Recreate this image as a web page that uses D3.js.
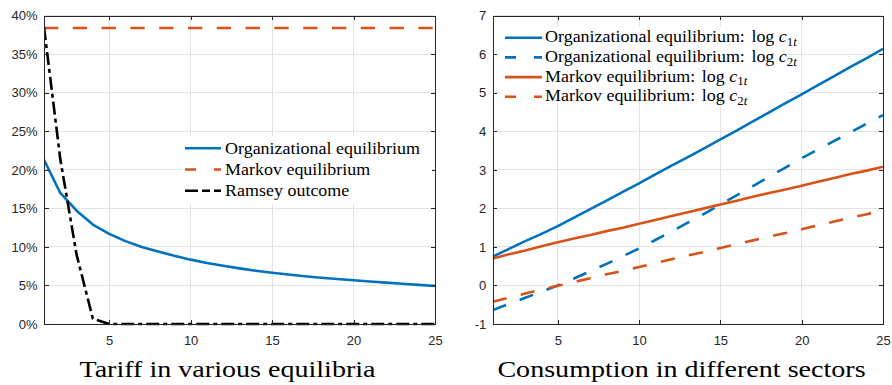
<!DOCTYPE html>
<html>
<head>
<meta charset="utf-8">
<script src="https://cdn.jsdelivr.net/npm/d3@7"></script>
<style>
  body { margin: 0; background: #fff; }
</style>
</head>
<body>
<svg id="chart" width="892" height="385"></svg>
<script>
// ---- data ----------------------------------------------------------
const periods = [1,2,3,4,5,6,7,8,9,10,11,12,13,14,15,16,17,18,19,20,21,22,23,24,25];

// tariff (%) by period
const tariffOrganizational = [21.3,17.0,14.7,12.9,11.7,10.75,10.0,9.4,8.85,8.35,7.92,7.55,7.22,6.92,6.65,6.42,6.2,6.0,5.84,5.68,5.52,5.37,5.22,5.08,4.93];
const tariffMarkov = [38.4,38.4,38.4,38.4,38.4,38.4,38.4,38.4,38.4,38.4,38.4,38.4,38.4,38.4,38.4,38.4,38.4,38.4,38.4,38.4,38.4,38.4,38.4,38.4,38.4];
const tariffRamsey = [38.5,21.4,9.0,0.7,0,0,0,0,0,0,0,0,0,0,0,0,0,0,0,0,0,0,0,0,0];

// log consumption by sector
const orgLogC1 = [0.75,0.95,1.15,1.34,1.54,1.76,1.98,2.2,2.43,2.65,2.88,3.11,3.33,3.56,3.79,4.02,4.26,4.49,4.73,4.96,5.2,5.43,5.67,5.9,6.14];
const orgLogC2 = [-0.64,-0.48,-0.32,-0.16,0.0,0.18,0.37,0.56,0.76,0.96,1.18,1.4,1.63,1.86,2.1,2.34,2.58,2.82,3.06,3.3,3.53,3.75,3.97,4.2,4.42];
const markovLogC1 = [0.7,0.81,0.91,1.02,1.12,1.22,1.31,1.41,1.5,1.6,1.7,1.8,1.9,2.0,2.1,2.2,2.3,2.4,2.49,2.59,2.69,2.79,2.89,2.98,3.08];
const markovLogC2 = [-0.42,-0.32,-0.21,-0.11,-0.01,0.09,0.19,0.29,0.38,0.48,0.58,0.68,0.78,0.87,0.97,1.07,1.17,1.27,1.36,1.46,1.56,1.66,1.76,1.85,1.95];

// axis ticks
const xTicks = [5,10,15,20,25];
const tariffTicks = [0,5,10,15,20,25,30,35,40];
const consumptionTicks = [-1,0,1,2,3,4,5,6,7];

// ---- styling -------------------------------------------------------
const BLUE = "#0072BD", ORANGE = "#D95319", BLACK = "#000000";
const AXIS = "#262626", GRID = "#e3e3e3";
const DASH = "14.3,14.5";
const DASHDOT = "13,4,4,4";
const SANS = "Liberation Sans";
const SERIF = "Liberation Serif";

const svg = d3.select("#chart");

// serif text block, stretched horizontally (glyph scale, no extra spacing)
function serifText(parent, x, y, size, stretch, anchor) {
  const holder = parent.append("g")
    .attr("transform", `translate(${x},${y}) scale(${stretch},1)`);
  return holder.append("text")
    .attr("x", 0).attr("y", 0)
    .attr("font-family", SERIF).attr("font-size", size)
    .attr("text-anchor", anchor || "start")
    .attr("fill", "#000");
}

function panel(cfg) {
  const x = d3.scaleLinear().domain([1, 25]).range([cfg.left, cfg.right]);
  const y = d3.scaleLinear().domain(cfg.yDomain).range([cfg.bottom, cfg.top]);
  const g = svg.append("g");

  // grid
  const grid = g.append("g").attr("stroke", GRID).attr("stroke-width", 1).attr("shape-rendering", "crispEdges");
  grid.selectAll("line.v").data(xTicks).join("line")
    .attr("x1", d => x(d)).attr("x2", d => x(d))
    .attr("y1", cfg.top).attr("y2", cfg.bottom);
  grid.selectAll("line.h").data(cfg.yTicks).join("line")
    .attr("x1", cfg.left).attr("x2", cfg.right)
    .attr("y1", d => y(d)).attr("y2", d => y(d));

  // series
  const line = d3.line().x((d, i) => x(periods[i])).y(d => y(d));
  const clipId = "clip" + cfg.id;
  g.append("clipPath").attr("id", clipId).append("rect")
    .attr("x", cfg.left).attr("y", cfg.top - 2)
    .attr("width", cfg.right - cfg.left).attr("height", cfg.bottom - cfg.top + 4);
  const lines = g.append("g").attr("clip-path", `url(#${clipId})`);
  cfg.series.forEach(s => {
    lines.append("path").datum(s.values)
      .attr("d", line)
      .attr("fill", "none")
      .attr("stroke", s.color)
      .attr("stroke-width", 2.6)
      .attr("stroke-linejoin", "round")
      .attr("stroke-dasharray", s.dash || null);
  });

  // axes (box, ticks pointing inward on all sides)
  const axG = g.append("g");
  const bottom = axG.append("g").attr("transform", `translate(0,${cfg.bottom})`)
    .call(d3.axisBottom(x).tickValues(xTicks).tickSizeInner(-4.5).tickSizeOuter(0).tickPadding(12));
  const left = axG.append("g").attr("transform", `translate(${cfg.left},0)`)
    .call(d3.axisLeft(y).tickValues(cfg.yTicks).tickFormat(cfg.yFormat).tickSizeInner(-4.5).tickSizeOuter(0).tickPadding(6.5));
  const top = axG.append("g").attr("transform", `translate(0,${cfg.top})`)
    .call(d3.axisTop(x).tickValues(xTicks).tickFormat("").tickSizeInner(-4.5).tickSizeOuter(0));
  const right = axG.append("g").attr("transform", `translate(${cfg.right},0)`)
    .call(d3.axisRight(y).tickValues(cfg.yTicks).tickFormat("").tickSizeInner(-4.5).tickSizeOuter(0));
  [bottom, left, top, right].forEach(a => {
    a.selectAll("path.domain").attr("stroke", AXIS).attr("stroke-width", 1).attr("shape-rendering", "crispEdges");
    a.selectAll(".tick line").attr("stroke", AXIS).attr("shape-rendering", "crispEdges");
    a.selectAll(".tick text").attr("fill", AXIS)
      .attr("font-family", SANS).attr("font-size", 13);
  });

  // legend
  const L = cfg.legend;
  const lg = g.append("g");
  lg.append("rect").attr("x", L.box[0]).attr("y", L.box[1])
    .attr("width", L.box[2]).attr("height", L.box[3]).attr("fill", "#fff");
  L.items.forEach((it, i) => {
    const cy = L.y0 + i * L.dy;
    lg.append("line").attr("x1", L.x0).attr("x2", L.x1).attr("y1", cy).attr("y2", cy)
      .attr("stroke", it.color).attr("stroke-width", 2.6)
      .attr("stroke-dasharray", it.dash || null);
    const t = serifText(lg, L.tx, cy + L.base, L.fontSize, L.stretch);
    t.append("tspan").text(it.label);
    if (it.sub) {
      t.append("tspan").text("log ").attr("dx", 6);
      t.append("tspan").text("c").attr("font-style", "italic");
      t.append("tspan").text(it.sub).attr("font-size", L.fontSize * 0.72).attr("dy", 3.5);
      t.append("tspan").text("t").attr("font-size", L.fontSize * 0.72).attr("font-style", "italic");
    }
  });

  // caption under the panel
  serifText(svg, cfg.titleX, 377, 24, 1.17, "middle").text(cfg.title);
}

panel({
  id: "tariff", left: 44, right: 435, top: 15.7, bottom: 324,
  yDomain: [0, 40], yTicks: tariffTicks, yFormat: d => d + "%",
  series: [
    { values: tariffOrganizational, color: BLUE },
    { values: tariffMarkov, color: ORANGE, dash: DASH },
    { values: tariffRamsey, color: BLACK, dash: DASHDOT }
  ],
  legend: {
    box: [182, 136, 250, 68], x0: 185, x1: 221, tx: 225, y0: 148.3, dy: 21.2, base: 5.5,
    fontSize: 16.5, stretch: 1.09,
    items: [
      { label: "Organizational equilibrium", color: BLUE },
      { label: "Markov equilibrium", color: ORANGE, dash: "11,18" },
      { label: "Ramsey outcome", color: BLACK, dash: "13,4,8,4,7" }
    ]
  },
  title: "Tariff in various equilibria", titleX: 227.5
});

panel({
  id: "consumption", left: 492.7, right: 883, top: 15.7, bottom: 324,
  yDomain: [-1, 7], yTicks: consumptionTicks, yFormat: d => String(d),
  series: [
    { values: orgLogC1, color: BLUE },
    { values: orgLogC2, color: BLUE, dash: DASH },
    { values: markovLogC1, color: ORANGE },
    { values: markovLogC2, color: ORANGE, dash: DASH }
  ],
  legend: {
    box: [500, 27, 288, 70], x0: 505, x1: 542, tx: 545, y0: 37.7, dy: 19.7, base: 4.6,
    fontSize: 16.5, stretch: 1.09,
    items: [
      { label: "Organizational equilibrium:", sub: "1", color: BLUE },
      { label: "Organizational equilibrium:", sub: "2", color: BLUE, dash: "11,18" },
      { label: "Markov equilibrium:", sub: "1", color: ORANGE },
      { label: "Markov equilibrium:", sub: "2", color: ORANGE, dash: "11,18" }
    ]
  },
  title: "Consumption in different sectors", titleX: 681.5
});
</script>
</body>
</html>
